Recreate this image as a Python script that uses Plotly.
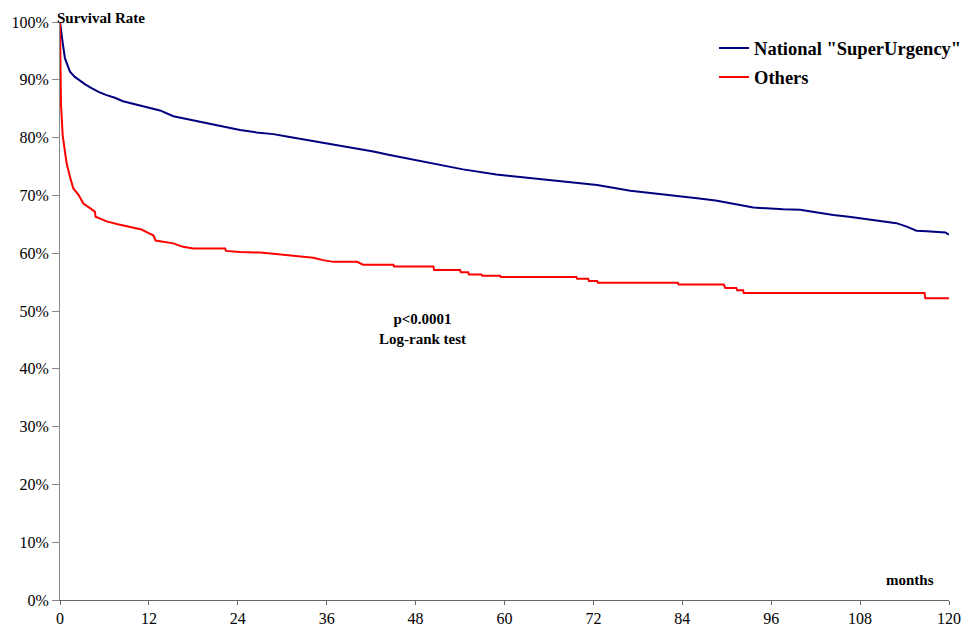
import plotly.graph_objects as go

# National "SuperUrgency" survival (months, %)
blue_months = [0, 0.1, 0.35, 0.67, 1.0, 1.35, 2.0, 2.7, 3.4, 4.2, 5.2, 6.2, 7.4, 8.5, 10.1, 12.0,
               13.5, 15.3, 17.5, 19.8, 22.0, 24.3, 26.5, 28.8, 31.0, 33.3, 35.5, 37.8, 40.0,
               42.3, 44.5, 46.8, 49.9, 51.3, 54.4, 58.9, 63.4, 67.9, 72.5, 77.0, 81.5, 86.0,
               88.5, 90.9, 93.6, 97.6, 99.9, 102.0, 104.4, 106.5, 108.9, 111.0, 112.9, 114.3,
               115.6, 117.0, 118.8, 119.5, 120.0]
blue_survival = [100, 98.6, 96.5, 93.7, 92.4, 91.4, 90.5, 89.8, 89.2, 88.6, 87.9, 87.4, 86.9, 86.3,
                 85.8, 85.3, 84.7, 83.7, 83.1, 82.5, 81.9, 81.3, 80.9, 80.6, 80.1, 79.6, 79.1,
                 78.5, 78.1, 77.6, 77.0, 76.4, 75.7, 75.3, 74.5, 73.6, 73.0, 72.4, 71.8, 70.8,
                 70.2, 69.5, 69.1, 68.5, 67.9, 67.6, 67.5, 67.1, 66.6, 66.3, 65.9, 65.5, 65.2,
                 64.6, 63.9, 63.8, 63.7, 63.6, 63.2]

# Others survival (months, %)
red_months = [0, 0.02, 0.13, 0.36, 0.9, 1.35, 1.8, 2.5, 3.15, 4.05, 4.7, 4.8, 5.5, 6.3, 7.8, 9.45,
              11.0, 12.1, 12.6, 12.9, 15.3, 16.6, 18.0, 22.3, 22.4, 24.3, 27.0, 28.8, 31.5, 34.2,
              35.5, 36.9, 40.1, 40.9, 45.0, 45.1, 50.4, 50.5, 54.0, 54.1, 55.1, 55.2, 56.9, 57.0,
              59.4, 59.5, 69.7, 69.8, 71.3, 71.4, 72.5, 72.6, 83.4, 83.5, 89.6, 89.8, 91.3, 91.4,
              92.2, 92.3, 116.7, 116.8, 120.0]
red_survival = [100, 91.7, 85.9, 80.4, 75.5, 73.2, 71.2, 70.1, 68.6, 67.8, 67.2, 66.3, 65.9, 65.5,
                65.0, 64.6, 64.1, 63.4, 63.1, 62.2, 61.7, 61.1, 60.8, 60.8, 60.4, 60.2, 60.1, 59.9,
                59.5, 59.2, 58.8, 58.5, 58.5, 58.0, 58.0, 57.7, 57.7, 57.1, 57.1, 56.7, 56.7, 56.3,
                56.3, 56.1, 56.1, 55.9, 55.9, 55.6, 55.6, 55.2, 55.2, 54.9, 54.9, 54.6, 54.6, 54.0,
                54.0, 53.6, 53.6, 53.1, 53.1, 52.2, 52.2]

x_ticks = [0, 12, 24, 36, 48, 60, 72, 84, 96, 108, 120]
y_ticks = [0, 10, 20, 30, 40, 50, 60, 70, 80, 90, 100]
y_tick_labels = [f"{v}%" for v in y_ticks]

serif = "Liberation Serif, Times New Roman, serif"

fig = go.Figure()
fig.add_trace(go.Scatter(x=blue_months, y=blue_survival, mode="lines",
                         name='National "SuperUrgency"', legendgroup="a",
                         line=dict(color="#000080", width=2)))
fig.add_trace(go.Scatter(x=red_months, y=red_survival, mode="lines",
                         name="Others", legendgroup="b",
                         line=dict(color="#FF0000", width=2)))

fig.update_layout(
    width=961, height=620,
    margin=dict(l=52, r=20, t=14, b=28, autoexpand=False),
    paper_bgcolor="white", plot_bgcolor="white",
    font=dict(family=serif, size=16, color="#000"),
    showlegend=True,
    legend=dict(xref="container", yref="container", x=0.7347, xanchor="left",
                y=0.9655, yanchor="top",
                font=dict(family=serif, size=18.5, color="#000", weight="bold"),
                bgcolor="rgba(0,0,0,0)", borderwidth=0,
                traceorder="grouped", tracegroupgap=2),
    xaxis=dict(range=[0, 120], tickvals=x_ticks, ticktext=[str(v) for v in x_ticks],
               automargin=False,
               showgrid=False, zeroline=False, showline=True, linecolor="#666", linewidth=1,
               ticks="outside", ticklen=4, tickcolor="#666",
               tickfont=dict(family=serif, size=16, color="#000")),
    yaxis=dict(range=[0, 100], tickvals=y_ticks, ticktext=y_tick_labels,
               automargin=False,
               showgrid=False, zeroline=False, showline=True, linecolor="#888", linewidth=1,
               ticks="outside", ticklen=7, tickcolor="#888",
               tickfont=dict(family=serif, size=16, color="#000")),
    annotations=[
        dict(text="<b>Survival Rate</b>", xref="paper", yref="paper", x=0, y=1,
             xanchor="left", yanchor="bottom", yshift=-6, xshift=-5, showarrow=False,
             font=dict(family=serif, size=15, color="#000")),
        dict(text="<b>months</b>", xref="x", yref="y", x=114.8, y=3.4,
             xanchor="center", yanchor="middle", showarrow=False,
             font=dict(family=serif, size=15, color="#000")),
        dict(text="<b>p<0.0001<br>Log-rank test</b>", xref="x", yref="y", x=48.9, y=50.3,
             xanchor="center", yanchor="top", showarrow=False, align="center",
             font=dict(family=serif, size=15, color="#000")),
    ],
)

fig.write_html("out.html")
